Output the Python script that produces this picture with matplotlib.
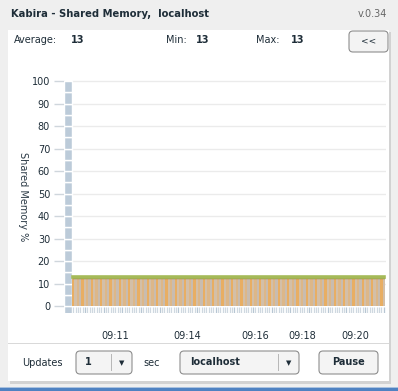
"""Kabira shared-memory monitor panel, redrawn with matplotlib."""

import matplotlib

matplotlib.use("Agg")
import matplotlib.pyplot as plt
from matplotlib.patches import FancyBboxPatch, Rectangle

# ── data ────────────────────────────────────────────────────────────────────
title = "Kabira - Shared Memory,  localhost"
version = "v.0.34"
stats = {"Average:": "13", "Min:": "13", "Max:": "13"}
shared_memory = [13] * 134  # one sample per update, all at 13 %
time_labels = ["09:11", "09:14", "09:16", "09:18", "09:20"]
time_label_samples = [18, 49, 78, 98, 121]
y_ticks = [0, 10, 20, 30, 40, 50, 60, 70, 80, 90, 100]
update_interval = "1"
host = "localhost"

W, H = 398, 391
TEXT = "#1e2d38"
BAR_COLORS = ["#e8ae63", "#d3bfa8", "#dcb789", "#c8bcb0"]

fig = plt.figure(figsize=(W / 100, H / 100), dpi=100)
fig.patch.set_facecolor("#efefef")


def fx(px):
    return px / W


def fy(py):
    return 1 - py / H


def label(x, y, s, size=7, weight="normal", ha="left", color=TEXT):
    fig.text(fx(x), fy(y), s, fontsize=size, fontweight=weight, ha=ha,
             va="center", color=color, family="DejaVu Sans", zorder=10)


def box(x0, y0, x1, y1, face="#f4f4f4", edge="#8e8e8e", rad=4, z=1):
    fig.patches.append(FancyBboxPatch(
        (fx(x0), fy(y1)), fx(x1 - x0), fy(y0) - fy(y1),
        boxstyle=f"round,pad=0,rounding_size={rad / W}",
        transform=fig.transFigure, facecolor=face, edgecolor=edge,
        linewidth=0.8, zorder=z))


def rect(x0, y0, x1, y1, color, z=0):
    fig.patches.append(Rectangle(
        (fx(x0), fy(y1)), fx(x1 - x0), fy(y0) - fy(y1),
        transform=fig.transFigure, facecolor=color, edgecolor="none", zorder=z))


# panel, shadow and bottom strip
rect(10, 32, 391, 384, "#d2d2d2", z=0)
rect(8, 30, 389, 381, "white", z=0)
rect(8, 343, 389, 344, "#d9d9d9", z=0)
rect(0, 388, W, H, "#4f82c2", z=0)
rect(0, 387, W, 388, "#a9c1de", z=0)

# header
label(11, 14, title, size=7.2, weight="bold")
label(387, 14, version, size=7, ha="right", color="#666666")
stat_x = [(14, 71), (166, 196), (256, 291)]
for (name, val), (xn, xv) in zip(stats.items(), stat_x):
    label(xn, 40, name)
    label(xv, 40, val, weight="bold")
box(349, 31, 388, 52, face="#f3f3f3")
label(368.5, 41, "<<", size=6.5, ha="center")

# ── chart ───────────────────────────────────────────────────────────────────
px_per_sample = 313 / len(shared_memory)
x_left = -0.5 - 8 / px_per_sample
x_right = len(shared_memory) - 0.5 + 1 / px_per_sample
y_lo, y_hi = -3.1, 100.4
ax_top = 81 - 0.4 * 2.25
ax_bot = 306 + 3.1 * 2.25
ax = fig.add_axes([fx(64), fy(ax_bot), fx(386) - fx(64), fy(ax_top) - fy(ax_bot)])
ax.set_zorder(5)
ax.set_facecolor("none")
ax.set_xlim(x_left, x_right)
ax.set_ylim(y_lo, y_hi)
for s in ax.spines.values():
    s.set_visible(False)

ax.hlines(y_ticks[1:], -0.5, x_right, color="#ebebeb", lw=1, zorder=0)

# scroll column on the left
for b in range(-5, 100, 5):
    ax.bar(x_left, 5, bottom=b, width=-0.5 - x_left, align="edge",
           color="#bccbd9", edgecolor="white", linewidth=1, zorder=2)

idx = list(range(len(shared_memory)))
colors = [BAR_COLORS[i % len(BAR_COLORS)] for i in idx]
ax.bar(idx, shared_memory, width=1, color=colors, linewidth=0, zorder=2)
ax.step(idx, [v - 0.5 for v in shared_memory], where="mid", color="#9a7a40",
        lw=1, zorder=3)
ax.step(idx, shared_memory, where="mid", color="#a5ba58", lw=2.6, zorder=4)
ax.vlines(idx, y_lo, -0.4, color=["#b7c6d3" if i % 8 == 5 else "#cfd8e0" for i in idx],
          lw=0.9, zorder=2)

ax.set_yticks(y_ticks)
ax.tick_params(axis="y", length=7, width=1, color="#cfd6dc", pad=3,
               labelsize=7, labelcolor=TEXT)
ax.set_xticks(time_label_samples)
ax.set_xticklabels(time_labels)
ax.tick_params(axis="x", length=0, pad=13, labelsize=7, labelcolor=TEXT)
ax.set_ylabel("Shared Memory %", rotation=-90, fontsize=7, color="#2b3a46")
ax.yaxis.set_label_coords(fx(23 - 64) / (fx(386) - fx(64)), 0.5)
ax.yaxis.label.set_va("center")

# ── bottom controls ─────────────────────────────────────────────────────────
label(22, 363, "Updates")
box(76, 351, 132, 374)
rect(111, 354, 112, 371, "#b8b8b8", z=2)
label(85, 362, update_interval, weight="bold")
label(121.5, 363, "▼", size=5, ha="center")
label(143, 363, "sec")
box(180, 351, 299, 374)
rect(278, 354, 279, 371, "#b8b8b8", z=2)
label(190, 362, host, weight="bold")
label(288.5, 363, "▼", size=5, ha="center")
box(319, 351, 378, 374)
label(348.5, 362, "Pause", weight="bold", ha="center")

fig.savefig("out.png", dpi=100, facecolor=fig.get_facecolor())
